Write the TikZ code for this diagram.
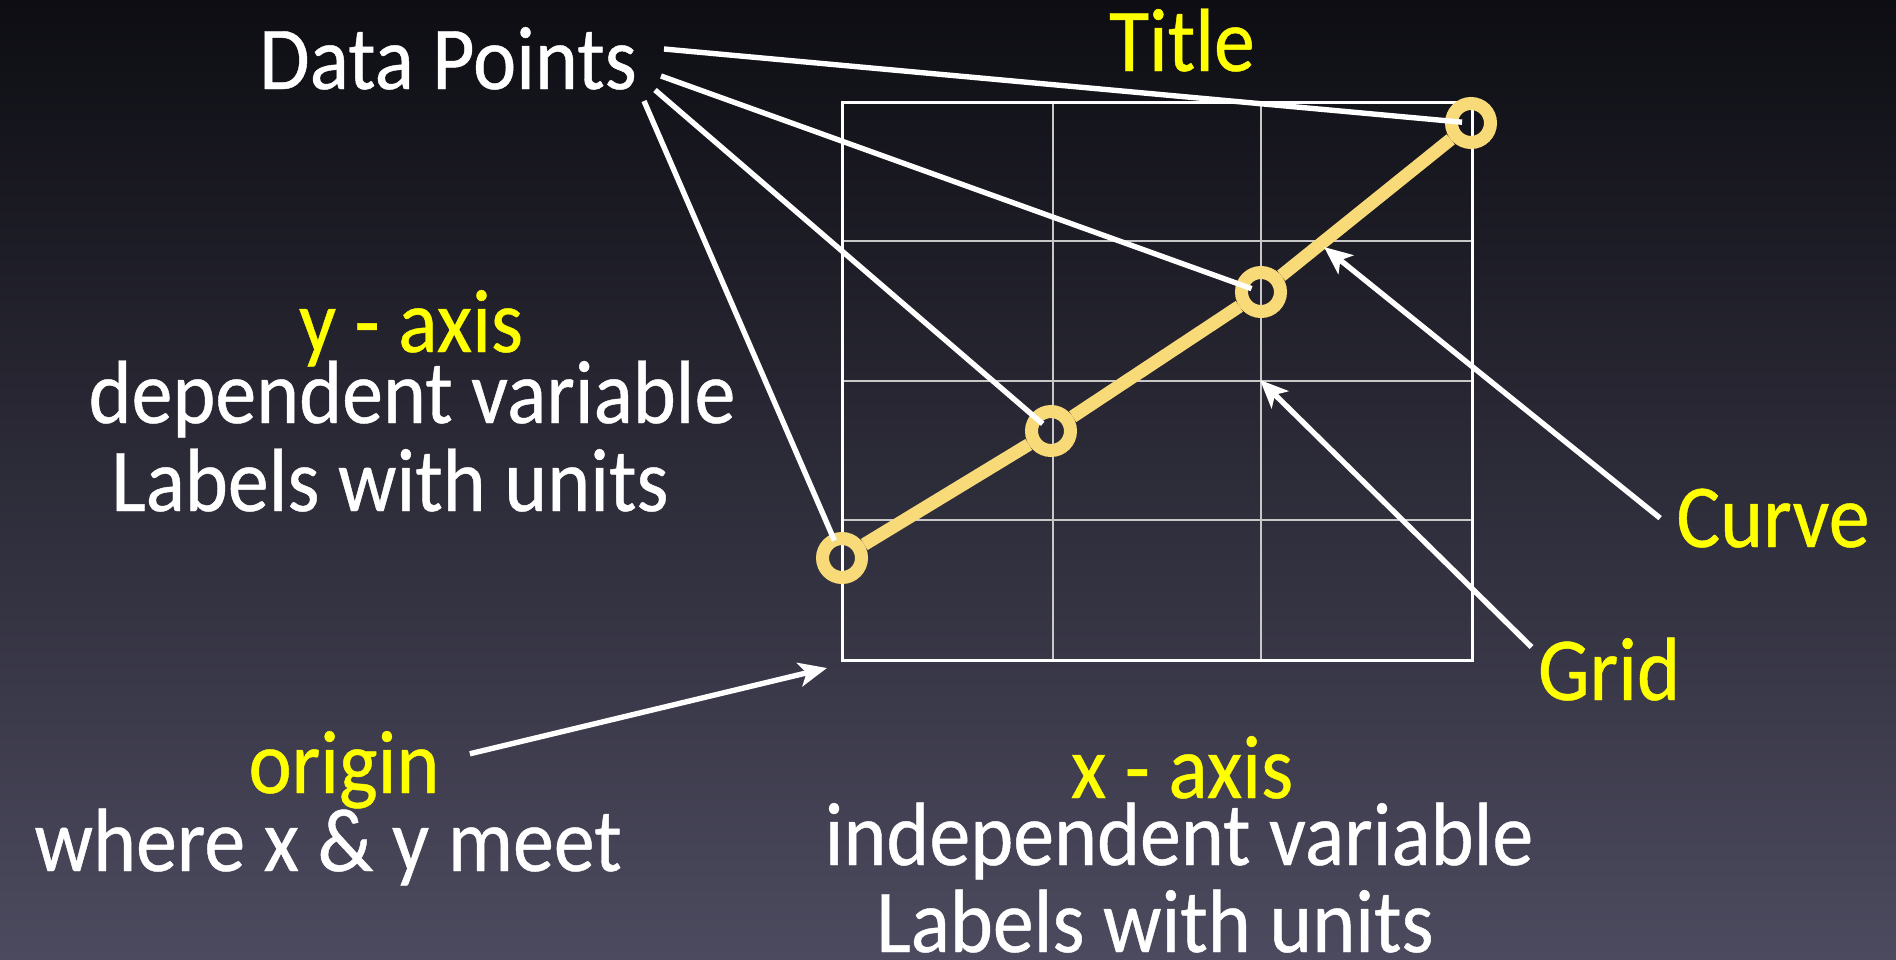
\documentclass[tikz,border=0pt]{standalone}
\usepackage{fontspec}
\setmainfont[FakeStretch=0.91,FakeBold=0.5]{Carlito}
\usetikzlibrary{arrows.meta}

\definecolor{bgtop}{RGB}{13,13,19}
\definecolor{bgmid}{RGB}{34,34,44}
\definecolor{bgbot}{RGB}{76,74,94}
\definecolor{curvecol}{RGB}{248,218,120}
\definecolor{gridcol}{RGB}{200,200,200}
\definecolor{hilite}{RGB}{255,255,0}

\tikzset{
  wtext/.style={text=white, font=\fontsize{45}{50}\selectfont, inner sep=0pt, anchor=base},
  ytext/.style={wtext, text=hilite},
  datapt/.style={circle, draw=curvecol, line width=6.5pt, minimum size=19.5pt, inner sep=0pt},
  pointer/.style={draw=white, line width=2.7pt},
}

\begin{document}
\begin{tikzpicture}[x=0.5pt, y=-0.5pt, >={Stealth[length=14pt,width=12pt,inset=3.5pt]}]
\useasboundingbox (0,0) rectangle (1896,959);
\shade[top color=bgtop, middle color=bgmid, bottom color=bgbot] (0,0) rectangle (1896,959);

% grid
\draw[gridcol, line width=1.3pt] (1053,102) -- (1053,660) (1261,102) -- (1261,660);
\draw[gridcol, line width=1.3pt] (842,241) -- (1472,241) (842,381) -- (1472,381) (842,520) -- (1472,520);
\draw[white, line width=1.5pt] (842,102) rectangle (1472,660);

% data points and curve
\node[datapt] (p1) at (842,558) {};
\node[datapt] (p2) at (1051,431) {};
\node[datapt] (p3) at (1261,292) {};
\node[datapt] (p4) at (1471,123) {};
\draw[curvecol, line width=6.5pt] (p1) -- (p2) -- (p3) -- (p4);

% labels
\node[ytext] (title) at (1182,71) {Title};
\node[wtext] (dp) at (448,89) {Data Points};
\node[ytext] (yaxis) at (411,352) {y - axis};
\node[wtext] (ydep) at (412,423) {dependent variable};
\node[wtext] (yunits) at (390,511) {Labels with units};
\node[ytext] (curve) at (1773,547) {Curve};
\node[ytext] (gridlbl) at (1609,700) {Grid};
\node[ytext] (origin) at (344,793) {origin};
\node[wtext] (meet) at (328,871) {where x \& y meet};
\node[ytext] (xaxis) at (1182,798) {x - axis};
\node[wtext] (xindep) at (1179,865) {independent variable};
\node[wtext] (xunits) at (1155,952) {Labels with units};

% pointers from Data Points
\coordinate (dpa) at (664,49);
\coordinate (dpb) at (661,76);
\coordinate (dpc) at (655,90);
\coordinate (dpd) at (644,101);
\draw[pointer, shorten >=4.5pt] (dpa) -- (p4.center);
\draw[pointer, shorten >=5pt] (dpb) -- (p3.center);
\draw[pointer, shorten >=5.5pt] (dpc) -- (p2.center);
\draw[pointer, shorten >=9.5pt] (dpd) -- (p1.center);

% arrows
\coordinate (curvetip) at (1324,247);
\coordinate (gridtip) at (1260,380);
\coordinate (origintip) at (827,668);
\draw[pointer, ->] ([xshift=-8pt]curve.west) -- (curvetip);
\draw[pointer, ->] ([xshift=-3pt,yshift=-5pt]gridlbl.north west) -- (gridtip);
\draw[pointer, ->] ([xshift=15pt,yshift=8pt]origin.east) -- (origintip);
\end{tikzpicture}
\end{document}
